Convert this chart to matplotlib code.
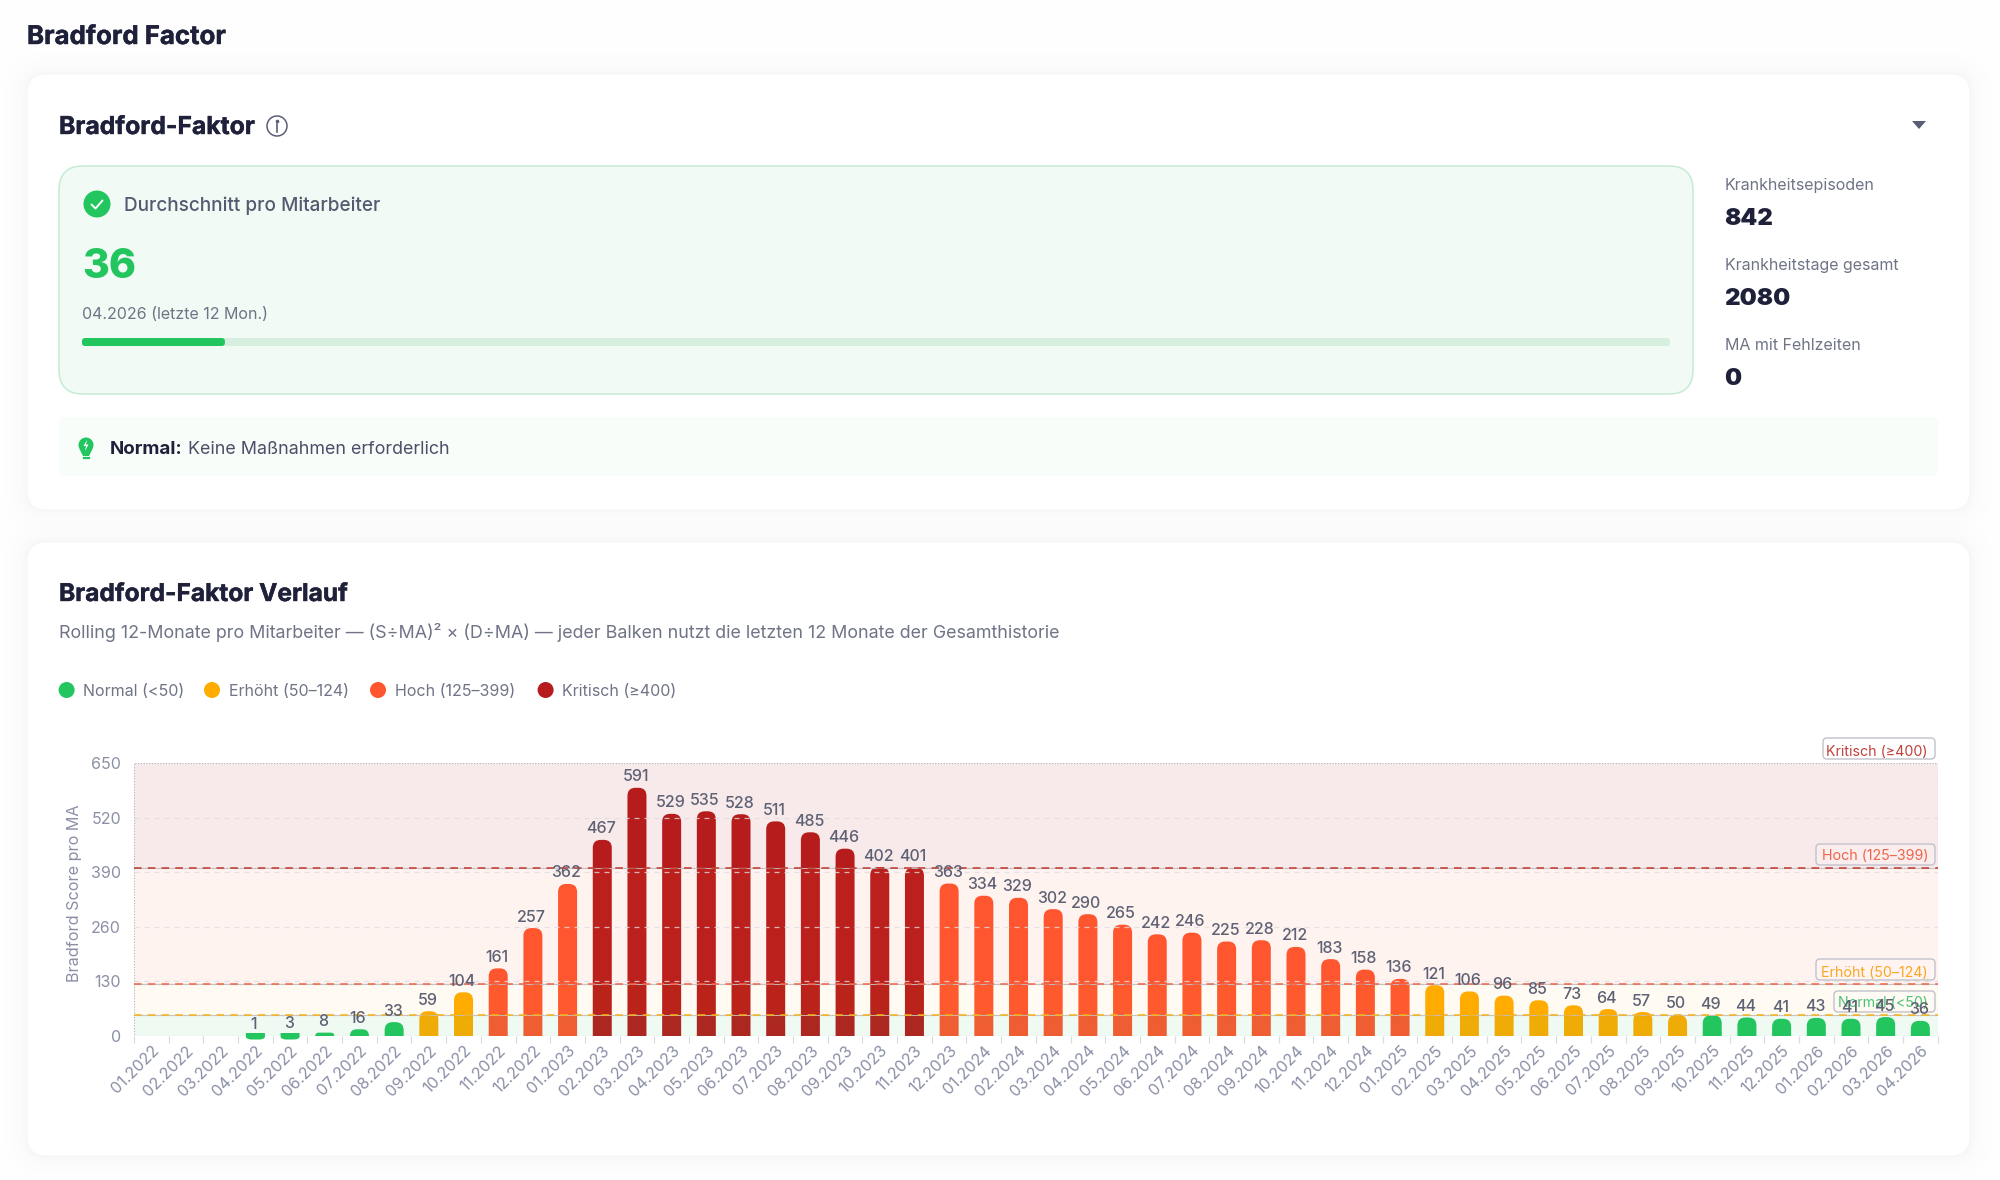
import matplotlib
matplotlib.use("Agg")
import matplotlib.pyplot as plt
from matplotlib.patches import FancyBboxPatch, Circle, Polygon, PathPatch
from matplotlib.path import Path
import matplotlib.patheffects as pe

# ---------- data ----------
months = ["01.2022","02.2022","03.2022","04.2022","05.2022","06.2022","07.2022","08.2022","09.2022","10.2022","11.2022","12.2022",
          "01.2023","02.2023","03.2023","04.2023","05.2023","06.2023","07.2023","08.2023","09.2023","10.2023","11.2023","12.2023",
          "01.2024","02.2024","03.2024","04.2024","05.2024","06.2024","07.2024","08.2024","09.2024","10.2024","11.2024","12.2024",
          "01.2025","02.2025","03.2025","04.2025","05.2025","06.2025","07.2025","08.2025","09.2025","10.2025","11.2025","12.2025",
          "01.2026","02.2026","03.2026","04.2026"]
scores = [0,0,0,1,3,8,16,33,59,104,161,257,362,467,591,529,535,528,511,485,446,402,401,363,
          334,329,302,290,265,242,246,225,228,212,183,158,136,121,106,96,85,73,64,57,50,49,44,41,43,41,45,36]
y_ticks = [0,130,260,390,520,650]
thresholds = [50,125,400]
band_edges = [0,50,125,400,650]
band_names = ["Normal (<50)","Erhöht (50–124)","Hoch (125–399)","Kritisch (≥400)"]
band_colors = ["#22c55e","#ffab00","#ff5630","#b71c1c"]
stat_labels = ["Krankheitsepisoden","Krankheitstage gesamt","MA mit Fehlzeiten"]
stat_values = ["842","2080","0"]
average = 36
gauge_max = 400

NAVY="#1e2139"; GREY="#6f7486"; AXC="#8b8fa6"
W,H=2000,1180
plt.rcParams['font.family']=['Inter','DejaVu Sans']
fig=plt.figure(figsize=(W/100,H/100),dpi=100,facecolor="#fefefe")
bg=fig.add_axes([0,0,1,1],zorder=0); bg.set_xlim(0,W); bg.set_ylim(H,0); bg.axis('off')

def px(s): return s*0.72
def T(x,y,s,size,color=NAVY,weight='normal',ha='left',bold=0,ax=None,**kw):
    t=(ax or bg).text(x,y,s,fontsize=px(size),color=color,fontweight=weight,ha=ha,va='baseline',transform=bg.transData,**kw)
    if bold: t.set_path_effects([pe.withStroke(linewidth=bold,foreground=color)])
    return t
def RR(x0,y0,x1,y1,r,fc,ec='none',lw=0,z=1,ax=None,alpha=None):
    p=FancyBboxPatch((x0+r,y0+r),x1-x0-2*r,y1-y0-2*r,boxstyle=f"round,pad={r},rounding_size={r}",fc=fc,ec=ec,lw=lw,zorder=z,transform=bg.transData,clip_on=False,alpha=alpha)
    (ax or bg).add_patch(p); return p

# cards with soft shadow
for (y0,y1) in [(74,510),(542,1156)]:
    for d,a in [(22,.003),(16,.004),(10,.005),(5,.006),(2,.008)]:
        RR(27-d,y0-d,1970+d,y1+d,20+d,"#30364f",z=0.5,alpha=a)
    RR(27,y0,1970,y1,20,"white",ec="#f7f7f8",lw=0.8,z=1)

T(27,44,"Bradford Factor",25.8,weight='bold',bold=0.3)
T(59,134,"Bradford-Faktor",24.7,weight='bold',bold=0.3)
bg.add_patch(Circle((277,126),10,fc='none',ec="#5a5e75",lw=1.1,zorder=2))
bg.plot([277,277],[124,132],color="#5a5e75",lw=1.2,zorder=3)
bg.plot([277],[120.5],'o',ms=1.6,color="#5a5e75",zorder=3)
bg.add_patch(Polygon([[1912,121],[1926,121],[1919,129]],fc="#5a5e75",ec='none',zorder=2))

# KPI box
RR(59,166,1693,394,24,"#f1faf4",ec="#c6ebd3",lw=1.1,z=2)
bg.add_patch(Circle((97,204),13.5,fc="#22c55e",ec='none',zorder=3))
bg.plot([91.5,95.5,102.5],[204.5,208.5,200.5],color="white",lw=1.4,solid_capstyle='round',zorder=4)
T(124,211,"Durchschnitt pro Mitarbeiter",19,color="#555a70",weight='medium')
T(82,278,str(average),41,color="#22c55e",weight=800)
T(82,319,"04.2026 (letzte 12 Mon.)",16,color=GREY)
RR(82,338,1670,346,3,"#d6efdf",z=3)
RR(82,338,82+(1670-82)*average/gauge_max,346,3,"#22c55e",z=4)

# stats
for i,(l,v) in enumerate(zip(stat_labels,stat_values)):
    T(1725,190+80*i,l,16,color=GREY)
    T(1724,225+80*i,v,24,weight='black')

# hint
RR(59,417,1938,476,6,"#f8fdfa",z=2)
bg.add_patch(Circle((86,445),7.5,fc="#22c55e",ec='none',zorder=3))
bg.add_patch(Polygon([[79.5,449],[92.5,449],[89,456],[83,456]],fc="#22c55e",ec='none',zorder=3))
bg.plot([83.5,88.5],[458,458],color="#22c55e",lw=1.6,zorder=3)
bg.add_patch(Polygon([[87,440],[83.5,446],[86,446],[85,451],[88.5,444.5],[86,444.5]],fc="white",ec='none',zorder=4))
T(110,454,"Normal:",18.7,weight='bold')
T(187.5,454,"Keine Maßnahmen erforderlich",17.9,color="#4b5068")

# trend header
T(59,601,"Bradford-Faktor Verlauf",24.5,weight='bold',bold=0.3)
T(59,638,"Rolling 12-Monate pro Mitarbeiter — (S÷MA)² × (D÷MA) — jeder Balken nutzt die letzten 12 Monate der Gesamthistorie",17.9,color=GREY)
for cx,tx,n,c in zip([66.6,212,378,545.6],[83,228.6,395,562],band_names,band_colors):
    bg.add_patch(Circle((cx,690),8,fc=c,ec='none',zorder=3))
    T(tx,696.5,n,16,color=GREY)

# ---------- chart ----------
L,R,Tp,B=134,1937.7,763,1036
ax=fig.add_axes([L/W,1-B/H,(R-L)/W,(B-Tp)/H],zorder=2)
ax.patch.set_alpha(0)
ax.set_xlim(-0.5,len(months)-0.5); ax.set_ylim(y_ticks[0],y_ticks[-1])
for s in ax.spines.values(): s.set_visible(False)
sx=(R-L)/len(months); sy=(B-Tp)/y_ticks[-1]
BW=19/sx

def color_of(v):
    for th,c in zip(thresholds,band_colors):
        if v<th: return c
    return band_colors[-1]

def bar_path(i,v):
    x0,x1=i-BW/2,i+BW/2
    hp=v*sy
    if hp<2:      # tiny values: stub straddling the baseline with a rounded underside
        top=3/sy; bot=-3.5/sy; rx=6/sx
        verts=[(x0,top),(x1,top),(x1,bot+3/sy),(x1,bot),(x1-rx,bot),(x0+rx,bot),(x0,bot),(x0,bot+3/sy),(x0,top)]
        codes=[Path.MOVETO,Path.LINETO,Path.LINETO,Path.CURVE3,Path.CURVE3,Path.LINETO,Path.CURVE3,Path.CURVE3,Path.CLOSEPOLY]
        return Path(verts,codes)
    rp=min(8,hp); rx=rp/sx; ry=rp/sy
    verts=[(x0,0),(x0,v-ry),(x0,v),(x0+rx,v),(x1-rx,v),(x1,v),(x1,v-ry),(x1,0),(x0,0)]
    codes=[Path.MOVETO,Path.LINETO,Path.CURVE3,Path.CURVE3,Path.LINETO,Path.CURVE3,Path.CURVE3,Path.LINETO,Path.CLOSEPOLY]
    return Path(verts,codes)

for i,v in enumerate(scores):
    if v<=0: continue
    ax.add_patch(PathPatch(bar_path(i,v),fc=color_of(v),ec='none',zorder=2,clip_on=False))

# bands over the bars
for lo,hi,c,a in zip(band_edges[:-1],band_edges[1:],band_colors,[.07,.05,.07,.09]):
    ax.axhspan(lo,hi,fc=matplotlib.colors.to_rgba(c,a),ec=(0.55,0.55,0.6,0.7),lw=0.8,ls=(0,(1,1.5)),zorder=3)
# grid
for v in y_ticks[1:-1]:
    ax.axhline(v,color="#dddddf",lw=0.9,ls=(0,(4,4)),zorder=3.5,alpha=.8)
for th,c,lc in zip(thresholds,band_colors[1:],["#f5b21a","#f0654a","#c0392f"]):
    ax.axhline(th,color="#c4c4c8",lw=0.6,zorder=3.6)
    ax.axhline(th,color=lc,lw=1.1,ls=(0,(5,4)),zorder=3.7)

# axis
ax.set_yticks(y_ticks)
ax.set_yticklabels([str(v) for v in y_ticks],fontsize=px(16),color=AXC)
ax.tick_params(axis='y',length=0,pad=px(13))
ax.set_xticks(range(len(months)))
ax.set_xticklabels(months,rotation=45,ha='right',va='top',rotation_mode='anchor',fontsize=px(16),color=AXC)
ax.tick_params(axis='x',which='major',length=0,pad=px(7))
ax.set_xticks([i-0.5 for i in range(len(months)+1)],minor=True)
ax.tick_params(axis='x',which='minor',length=px(7),color="#d9dae0",width=0.9)
ax.set_ylabel("Bradford Score pro MA",fontsize=px(16.2),color=AXC)
ax.yaxis.set_label_coords((82-L)/(R-L),0.5-(893-(Tp+B)/2)/(B-Tp))

# value labels
for i,v in enumerate(scores):
    if v<=0: continue
    ax.annotate(str(v),(i,v),xytext=(-1,px(11)),textcoords='offset points',ha='center',va='center',
                fontsize=px(16),color="#5e6274",fontweight='medium',zorder=8,annotation_clip=False)

# threshold tags
tags=[(1823,738,1935,759,756,band_names[3],"#c0423c"),
      (1816,844,1935,865,860,band_names[2],"#f0654a"),
      (1816,959,1935,980,977,band_names[1],"#f9a825"),
      (1834,991,1935,1012,1007,band_names[0],"#4cc277")]
for x0,y0,x1,y1,bl,n,c in tags:
    RR(x0,y0,x1,y1,4,(1,1,1,0.15),ec="#c0c2cb",lw=1,z=6,ax=ax)
    T(x1-7,bl,n,14.2,color=c,ha='right',ax=ax,zorder=7,clip_on=False)

fig.savefig("out.png",dpi=100,facecolor=fig.get_facecolor())
